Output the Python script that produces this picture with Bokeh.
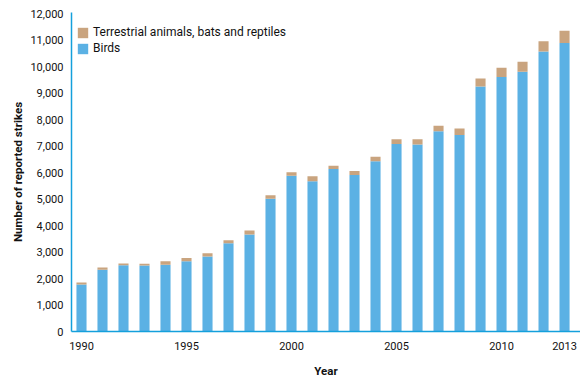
from bokeh.plotting import figure
from bokeh.models import ColumnDataSource, Range1d, FixedTicker, Legend, LegendItem, NumeralTickFormatter, Spacer
from bokeh.layouts import row
from bokeh.embed import file_html
from bokeh.resources import INLINE

years = list(range(1990, 2014))
birds = [1770, 2330, 2500, 2490, 2515, 2650, 2830, 3330, 3660, 5010, 5880, 5670,
         6130, 5910, 6430, 7080, 7060, 7560, 7420, 9245, 9610, 9800, 10570, 10890]
terrestrial = [80, 85, 65, 70, 135, 120, 120, 115, 150, 130, 130, 185,
               130, 150, 170, 180, 200, 210, 240, 305, 340, 380, 385, 460]
x_ticks = [1990, 1995, 2000, 2005, 2010, 2013]
y_ticks = list(range(0, 12001, 1000))

FONT = "Roboto"
AXIS_COLOR = "#14a0dc"
BIRD_COLOR = "#5bb1e4"
TERR_COLOR = "#c9a47f"

src = ColumnDataSource(dict(year=years, birds=birds, terrestrial=terrestrial))

p = figure(frame_width=509, frame_height=319, output_backend="svg", toolbar_location=None,
           x_range=Range1d(1989.524, 2013.76), y_range=Range1d(0, 12040),
           min_border_left=52, min_border_right=0, min_border_top=12, min_border_bottom=36)
p.outline_line_color = None
p.grid.grid_line_color = None

r = p.vbar_stack(["birds", "terrestrial"], x="year", width=0.48, source=src,
                 color=[BIRD_COLOR, TERR_COLOR], line_color=None)

for ax in (p.xaxis[0], p.yaxis[0]):
    ax.axis_line_color = AXIS_COLOR
    ax.axis_line_width = 1.5
    ax.major_tick_line_color = None
    ax.minor_tick_line_color = None
    ax.major_tick_out = 0
    ax.major_tick_in = 0
    ax.minor_tick_out = 0
    ax.major_label_text_font = FONT
    ax.major_label_text_font_size = "11px"
    ax.major_label_text_color = "#111111"
    ax.axis_label_text_font = FONT
    ax.axis_label_text_font_size = "11.5px"
    ax.axis_label_text_font_style = "bold"
    ax.axis_label_text_color = "#111111"

p.xaxis.ticker = FixedTicker(ticks=x_ticks)
p.yaxis.ticker = FixedTicker(ticks=y_ticks)
p.yaxis.formatter = NumeralTickFormatter(format="0,0")
p.xaxis.axis_label = "Year"
p.yaxis.axis_label = "Number of reported strikes"
p.xaxis.major_label_standoff = 10
p.xaxis.axis_label_standoff = 11
p.yaxis.major_label_standoff = 8
p.yaxis.axis_label_standoff = 2

legend = Legend(items=[LegendItem(label="Terrestrial animals, bats and reptiles", renderers=[r[1]]),
                       LegendItem(label="Birds", renderers=[r[0]])],
                location=(5, 319 - 11 - 32), orientation="vertical",
                glyph_width=13, glyph_height=13, label_height=13, label_standoff=4,
                spacing=2, padding=0, margin=0,
                border_line_color=None, background_fill_alpha=0,
                label_text_font=FONT, label_text_font_size="12px", label_text_color="#111111")
p.add_layout(legend)

layout = row(Spacer(width=8, height=10), p)
open("out.html", "w").write(file_html(layout, INLINE))
